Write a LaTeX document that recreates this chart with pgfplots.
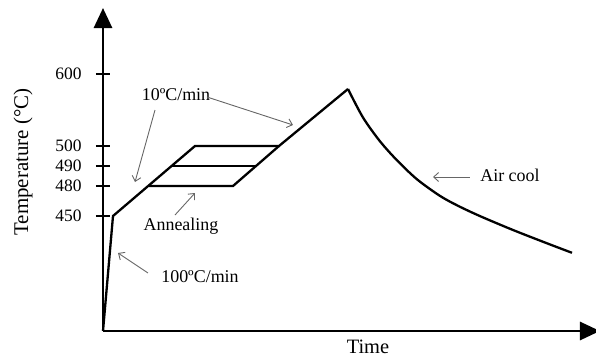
\documentclass[border=0pt]{standalone}
\usepackage{pgfplots}
\pgfplotsset{compat=1.18}
\usepackage{fontspec}
\setmainfont{Liberation Serif}
\usetikzlibrary{arrows.meta}

% heat-treatment schedule (schematic scale, temperatures shown as tick labels)
\pgfplotstableread{
x y
0 0
10 115
92 185
176 185
245 242
}\heating
\pgfplotstableread{
x y
245 242
260 213.5
277 189.7
294 170.7
314 151.7
337 135.1
355 125.2
377 114.9
410 101
444 87.7
469 78.2
}\cooling

\begin{document}
\begin{tikzpicture}
\begin{axis}[
  x=1bp, y=1bp,
  xmin=0, xmax=497, ymin=0, ymax=323,
  axis lines=left,
  axis line style={line width=2.8bp, -{Triangle[width=18bp,length=20bp]}},
  xtick=\empty,
  ytick={115,145,165,185,257},
  yticklabels={450,480,490,500,600},
  tick align=center,
  major tick length=14bp,
  tick style={line width=2bp, black},
  yticklabel style={font=\fontsize{17.5}{20}\selectfont, xshift=-11bp},
  xlabel={Time},
  ylabel={Temperature (\textdegree C)},
  xlabel style={at={(axis cs:265,-16)}, anchor=center, font=\fontsize{20.5}{24}\selectfont},
  ylabel style={at={(axis cs:-80,169)}, anchor=center, font=\fontsize{21}{24}\selectfont},
  clip=false,
]
\addplot[line width=2.3bp, black, line join=miter] table[x=x,y=y] {\heating};
\addplot[line width=2.3bp, black, smooth] table[x=x,y=y] {\cooling};
% annealing holds at 480 and 490 with the re-heating edge
\addplot[line width=2.3bp, black] coordinates {(46,145) (130,145) (176,185)};
\addplot[line width=2.3bp, black] coordinates {(69,165) (153,165)};

% annotations
\begin{scope}[every node/.style={font=\fontsize{18}{21}\selectfont, inner sep=0pt}]
\node at (axis cs:73,236) {10ºC/min};
\node at (axis cs:78,105) {Annealing};
\node at (axis cs:97,54) {100ºC/min};
\node at (axis cs:407,156) {Air cool};
\end{scope}
\begin{scope}[black!60, line width=0.9bp, -{Straight Barb[length=5bp,width=9bp]}]
\draw (axis cs:104,234) -- (axis cs:190,206);
\draw (axis cs:52,221) -- (axis cs:32,149);
\draw (axis cs:72,116) -- (axis cs:92,138);
\draw (axis cs:45,58) -- (axis cs:15,78);
\draw (axis cs:367,154) -- (axis cs:330,154);
\end{scope}
\end{axis}
\pgfresetboundingbox
\path[use as bounding box] (-103bp,-27bp) rectangle (493bp,331bp);
\end{tikzpicture}
\end{document}
